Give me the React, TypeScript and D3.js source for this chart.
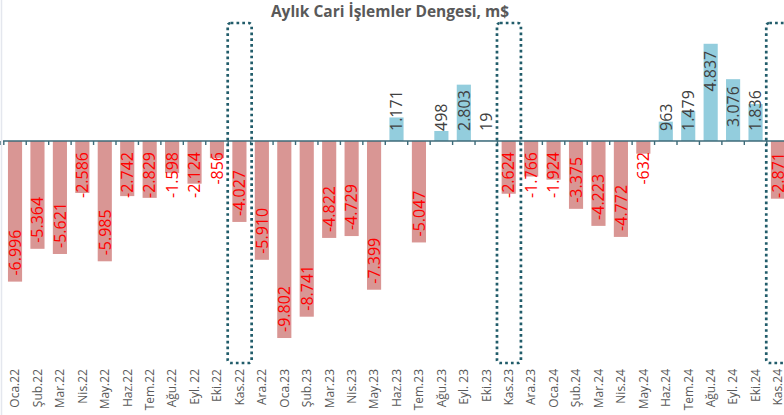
import React from "react";
import * as d3 from "d3";

const months = [
  "Oca.22", "Şub.22", "Mar.22", "Nis.22", "May.22", "Haz.22", "Tem.22", "Ağu.22", "Eyl. 22", "Eki.22", "Kas.22", "Ara.22",
  "Oca.23", "Şub.23", "Mar.23", "Nis.23", "May.23", "Haz.23", "Tem.23", "Ağu.23", "Eyl. 23", "Eki.23", "Kas.23", "Ara.23",
  "Oca.24", "Şub.24", "Mar.24", "Nis.24", "May.24", "Haz.24", "Tem.24", "Ağu.24", "Eyl. 24", "Eki.24", "Kas.24",
];
const values = [
  -6996, -5364, -5621, -2586, -5985, -2742, -2829, -1598, -2124, -856, -4027, -5910,
  -9802, -8741, -4822, -4729, -7399, 1171, -5047, 498, 2803, 19, -2624, -1766,
  -1924, -3375, -4223, -4772, -632, 963, 1479, 4837, 3076, 1836, -2871,
];
const highlighted = ["Kas.22", "Kas.23", "Kas.24"];
const title = "Aylık Cari İşlemler Dengesi, m$";

const W = 784;
const H = 415;
const FONT = "'Open Sans', 'DejaVu Sans', sans-serif";

const fmt = (v: number) => {
  const s = Math.abs(v).toString();
  const withDots = s.replace(/\B(?=(\d{3})+(?!\d))/g, ".");
  return (v < 0 ? "-" : "") + withDots;
};

const LABEL_SIZE = 16;
const textLen = (s: string) => {
  let w = 0;
  for (const c of s) {
    if (c === ".") w += 0.266;
    else if (c === "-") w += 0.322;
    else w += 0.572;
  }
  return w * LABEL_SIZE;
};

export default function App() {
  const x = d3
    .scaleBand<string>()
    .domain(months)
    .range([3.8, 3.8 + 35 * 22.44])
    .paddingInner(0.37)
    .paddingOuter(0.185);
  const y = d3.scaleLinear().domain([-10000, 5000]).range([342, 40.5]);
  const y0 = y(0);
  const step = x.step();
  const bw = x.bandwidth();
  const boundary = (i: number) => (x(months[i]) as number) - (step * 0.37) / 2;

  return (
    <svg
      width={W}
      height={H}
      style={{ position: "absolute", left: 0, top: 0, background: "#fff" }}
      fontFamily={FONT}
    >
      <line x1={1.5} x2={1.5} y1={0} y2={H} stroke="#e4e7ee" strokeWidth={1.5} />
      <text
        x={390}
        y={17}
        textAnchor="middle"
        fontSize={15.5}
        fontWeight="bold"
        fill="#595959"
      >
        {title}
      </text>

      {months.map((m, i) => {
        const v = values[i];
        const yv = y(v);
        return (
          <rect
            key={"b" + m}
            x={x(m)}
            width={bw}
            y={Math.min(yv, y0)}
            height={Math.abs(yv - y0)}
            fill={v < 0 ? "#d99694" : "#93cddd"}
          />
        );
      })}

      <line x1={3} x2={W} y1={y0} y2={y0} stroke="#3d6a78" strokeWidth={1.6} />
      {d3.range(months.length + 1).map((i) => (
        <line
          key={"t" + i}
          x1={boundary(i)}
          x2={boundary(i)}
          y1={y0}
          y2={y0 + 4}
          stroke="#3d6a78"
          strokeWidth={1.4}
        />
      ))}

      {months.map((m, i) => {
        const v = values[i];
        const label = fmt(v);
        const L = textLen(label);
        const cx = (x(m) as number) + bw / 2;
        const yv = y(v);
        let anchor: "start" | "end";
        let ty: number;
        if (v < 0) {
          const start = yv - 6;
          if (start - L >= y0 + 11) {
            anchor = "start";
            ty = start;
          } else {
            anchor = "end";
            ty = y0 + 11;
          }
        } else {
          const end = yv + 7;
          if (end + L <= y0 - 10) {
            anchor = "end";
            ty = end;
          } else {
            anchor = "start";
            ty = y0 - 10;
          }
        }
        return (
          <text
            key={"l" + m}
            transform={`translate(${cx},${ty}) rotate(-90)`}
            textAnchor={anchor}
            dy="0.36em"
            fontSize={LABEL_SIZE}
            fill={v < 0 ? "#ff0000" : "#404040"}
          >
            {label}
          </text>
        );
      })}

      {months.map((m) => {
        const cx = (x(m) as number) + bw / 2;
        return (
          <text
            key={"x" + m}
            transform={`translate(${cx},369) rotate(-90)`}
            textAnchor="end"
            dy="0.36em"
            fontSize={12}
            fill="#595959"
          >
            {m}
          </text>
        );
      })}

      {highlighted.map((m) => {
        const i = months.indexOf(m);
        const x0 = boundary(i) - 0.5;
        return (
          <rect
            key={"h" + m}
            x={x0}
            y={23}
            width={step + 1.5}
            height={340}
            rx={3}
            fill="none"
            stroke="#215c6a"
            strokeWidth={2.7}
            strokeDasharray="2.7 3.1"
          />
        );
      })}
    </svg>
  );
}
